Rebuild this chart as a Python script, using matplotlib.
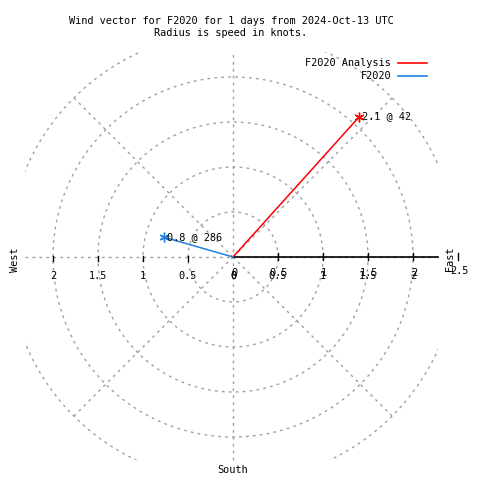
#!/usr/bin/env python3
# polar wind vector plot, gnuplot look
import numpy as np
import matplotlib
matplotlib.use("Agg")
import matplotlib.pyplot as plt
from matplotlib.patches import Rectangle

names = ["F2020 Analysis", "F2020"]
speed = [2.1, 0.8]          # knots
direction = [42, 286]       # degrees, clockwise from north
colors = ["#ff0000", "#1f80e0"]

rings = [0.5, 1.0, 1.5, 2.0, 2.5]
spokes = [45, 135, 225, 315]
tick_vals = [0.5, 1.0, 1.5, 2.0, 2.5]
left_labels = ["2", "1.5", "1", "0.5", "0"]
left_vals = [-2.0, -1.5, -1.0, -0.5, 0.0]
right_labels = ["0", "0.5", "1", "1.5", "2"]
right_vals = [0.0, 0.5, 1.0, 1.5, 2.0]

title = "Wind vector for F2020 for 1 days from 2024-Oct-13 UTC\nRadius is speed in knots."

S = 90.0   # pixels per knot
cx, cy = 233, 257
font = "DejaVu Sans Mono"
fs = 7.4
grid_c = "#a0a0a0"
dots = (0, (2, 3))

fig = plt.figure(figsize=(4.8, 4.8), dpi=100)
ax = fig.add_axes([0, 0, 1, 1])
ax.set_xlim(-cx / S, (480 - cx) / S)
ax.set_ylim(-(480 - cy) / S, cy / S)
ax.axis("off")

xmin, xmax, ymin, ymax = -2.31, 2.28, -2.26, 2.28
box = Rectangle((xmin, ymin), xmax - xmin, ymax - ymin, transform=ax.transData,
                fill=False, visible=False)
ax.add_patch(box)

t = np.linspace(0, 2 * np.pi, 721)
for r in rings:
    ln, = ax.plot(r * np.cos(t), r * np.sin(t), color=grid_c, lw=1, ls=dots)
    ln.set_clip_path(box)
for a in spokes:
    th = np.radians(a)
    ax.plot([0, 2.5 * np.sin(th)], [0, 2.5 * np.cos(th)], color=grid_c, lw=1, ls=dots)
ax.plot([xmin, xmax], [0, 0], color=grid_c, lw=1, ls=dots)
ax.plot([0, 0], [ymin, ymax], color=grid_c, lw=1, ls=dots)

# solid radial axis to the east
ax.plot([0, xmax], [0, 0], color="black", lw=1.2)
for v in tick_vals:
    ax.plot([v, v], [-3 / S, 4 / S], color="black", lw=1)
for v in left_vals[:-1]:
    ax.plot([v, v], [-4 / S, 1 / S], color="black", lw=1)

for lab, v in zip(left_labels, left_vals):
    ax.text(v, -19 / S, lab, ha="center", va="center", family=font, fontsize=fs)
for lab, v in zip(right_labels, right_vals):
    ax.text(v, -19 / S, lab, ha="center", va="center", family=font, fontsize=fs)
    ax.text(v + 1 / S, -16 / S, lab, ha="center", va="center", family=font, fontsize=fs)
ax.text(tick_vals[-1] + 1 / S, -14 / S, "2.5", ha="center", va="center", family=font, fontsize=fs)

ax.text(-218 / S, -3 / S, "West", rotation=90, ha="center", va="center", family=font, fontsize=fs)
ax.text(217 / S, -2 / S, "East", rotation=90, ha="center", va="center", family=font, fontsize=fs)
ax.text(0, -213 / S, "South", ha="center", va="center", family=font, fontsize=fs)

# wind vectors
for n, sp, d, c in zip(names, speed, direction, colors):
    th = np.radians(d)
    x, y = sp * np.sin(th), sp * np.cos(th)
    ax.plot([0, x], [0, y], color=c, lw=1.1)
    ax.plot([x], [y], marker=(6, 2, 0), color=c, ms=7, mew=1)
    ax.annotate(f"{sp} @ {d}", (x, y), xytext=(2, 0), textcoords="offset points",
                ha="left", va="center", family=font, fontsize=fs)

# legend, gnuplot style
for i, (n, c) in enumerate(zip(names, colors)):
    py = 63 + 13 * i
    fig.text(391 / 480, 1 - py / 480, n, ha="right", va="center", family=font, fontsize=fs)
    fig.add_artist(plt.Line2D([398 / 480, 427 / 480], [1 - py / 480] * 2, color=c, lw=1.2))

fig.text(231 / 480, 1 - 27 / 480, title, ha="center", va="center", family=font,
         fontsize=fs, linespacing=1.25)

fig.savefig("out.png", dpi=100)
plt.close(fig)
